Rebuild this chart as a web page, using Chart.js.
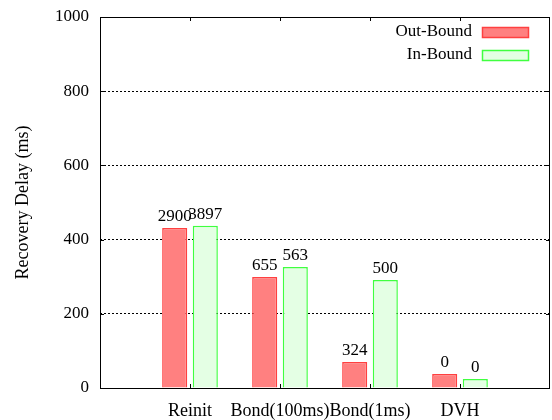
<!DOCTYPE html>
<html>
<head>
<meta charset="utf-8">
<script src="https://cdn.jsdelivr.net/npm/chart.js@4/dist/chart.umd.min.js"></script>
<style>
  html, body { margin: 0; padding: 0; background: #fff; }
</style>
</head>
<body>
<canvas id="myChart" width="552" height="420"></canvas>
<script>
// categories (empty slots at each end keep the gnuplot-style spacing)
const categorias = ['', 'Reinit', 'Bond(100ms)', 'Bond(1ms)', 'DVH', ''];
const outBound = [null, 431, 299, 70, 38, null];
const inBound = [null, 437, 326, 291, 24, null];
// numbers printed above each bar
const rotulosOut = ['', '2900', '655', '324', '0', ''];
const rotulosIn = ['', '3897', '563', '500', '0', ''];
const yTicks = [0, 200, 400, 600, 800, 1000];

const fonte = '"Liberation Serif", "DejaVu Serif", serif';

// moldura do gráfico, pequenos traços de escala e rótulos sobre as barras
const moldura = {
    id: 'moldura',
    afterDraw(chart) {
        const c = chart.ctx;
        const a = chart.chartArea;
        const x = chart.scales.x;
        const y = chart.scales.y;
        c.save();
        c.strokeStyle = '#000';
        c.lineWidth = 1;
        c.strokeRect(Math.round(a.left) + 0.5, Math.round(a.top) + 0.5,
            Math.round(a.right - a.left) - 1, Math.round(a.bottom - a.top));
        c.beginPath();
        for (let i = 1; i < categorias.length - 1; i++) {
            const px = Math.round(x.getPixelForValue(i)) + 0.5;
            c.moveTo(px, a.top); c.lineTo(px, a.top + 4);
            c.moveTo(px, a.bottom); c.lineTo(px, a.bottom - 4);
        }
        yTicks.forEach(v => {
            const py = Math.round(y.getPixelForValue(v)) + 0.5;
            c.moveTo(a.left, py); c.lineTo(a.left + 4, py);
            c.moveTo(a.right, py); c.lineTo(a.right - 4, py);
        });
        c.stroke();

        // rótulos numéricos
        c.fillStyle = '#000';
        c.font = '17px ' + fonte;
        c.textAlign = 'center';
        c.textBaseline = 'alphabetic';
        [rotulosOut, rotulosIn].forEach((rot, d) => {
            chart.getDatasetMeta(d).data.forEach((bar, i) => {
                if (!rot[i]) return;
                c.fillText(rot[i], bar.x, bar.y - 7);
            });
        });

        // legenda no canto superior direito
        const itens = [
            { t: 'Out-Bound', fill: 'rgba(255, 128, 128, 1)', border: 'rgba(255, 64, 64, 1)', y: 27 },
            { t: 'In-Bound', fill: 'rgba(228, 255, 228, 1)', border: 'rgba(64, 255, 64, 1)', y: 50 }
        ];
        c.textAlign = 'right';
        c.textBaseline = 'middle';
        itens.forEach(it => {
            c.fillStyle = it.fill;
            c.fillRect(482, it.y, 47, 11);
            c.strokeStyle = it.border;
            c.lineWidth = 1.5;
            c.strokeRect(482.5, it.y + 0.5, 46, 10);
            c.fillStyle = '#000';
            c.fillText(it.t, 472, it.y + 5);
        });
        c.restore();
    }
};

const ctx = document.getElementById('myChart').getContext('2d');
const myChart = new Chart(ctx, {
    type: 'bar',
    data: {
        labels: categorias,
        datasets: [{
            label: 'Out-Bound',
            data: outBound,
            backgroundColor: 'rgba(255, 128, 128, 1)',
            borderColor: 'rgba(255, 64, 64, 1)',
            borderWidth: 1.5,
            borderSkipped: 'bottom'
        }, {
            label: 'In-Bound',
            data: inBound,
            backgroundColor: 'rgba(228, 255, 228, 1)',
            borderColor: 'rgba(64, 255, 64, 1)',
            borderWidth: 1.5,
            borderSkipped: 'bottom'
        }]
    },
    options: {
        responsive: false,
        animation: false,
        categoryPercentage: 0.68,
        barPercentage: 0.82,
        layout: {
            padding: { top: 17, right: 2, bottom: 0, left: 0 }
        },
        plugins: {
            legend: { display: false },
            tooltip: { enabled: false }
        },
        scales: {
            x: {
                offset: false,
                afterFit(scale) {
                    scale.height = 32;
                    scale.paddingLeft = 0;
                    scale.paddingRight = 0;
                },
                grid: { display: false, drawTicks: false },
                border: { display: false },
                ticks: {
                    autoSkip: false,
                    maxRotation: 0,
                    padding: 12,
                    color: '#000',
                    font: { family: fonte, size: 18 }
                }
            },
            y: {
                min: 0,
                max: 1000,
                afterFit(scale) {
                    scale.width = 100;
                    scale.paddingTop = 0;
                    scale.paddingBottom = 0;
                },
                afterBuildTicks(scale) { scale.ticks = yTicks.map(v => ({ value: v })); },
                border: { display: false, dash: [2, 2] },
                grid: {
                    drawTicks: false,
                    color: c => (c.tick && (c.tick.value === 0 || c.tick.value === 1000)) ? 'rgba(0,0,0,0)' : '#000',
                    lineWidth: 1
                },
                ticks: {
                    padding: 11,
                    color: '#000',
                    font: { family: fonte, size: 17 },
                    callback: v => String(v)
                },
                title: {
                    display: true,
                    text: 'Recovery Delay (ms)',
                    color: '#000',
                    padding: { top: 12, bottom: 0 },
                    font: { family: fonte, size: 18 }
                }
            }
        }
    },
    plugins: [moldura]
});
</script>
</body>
</html>
